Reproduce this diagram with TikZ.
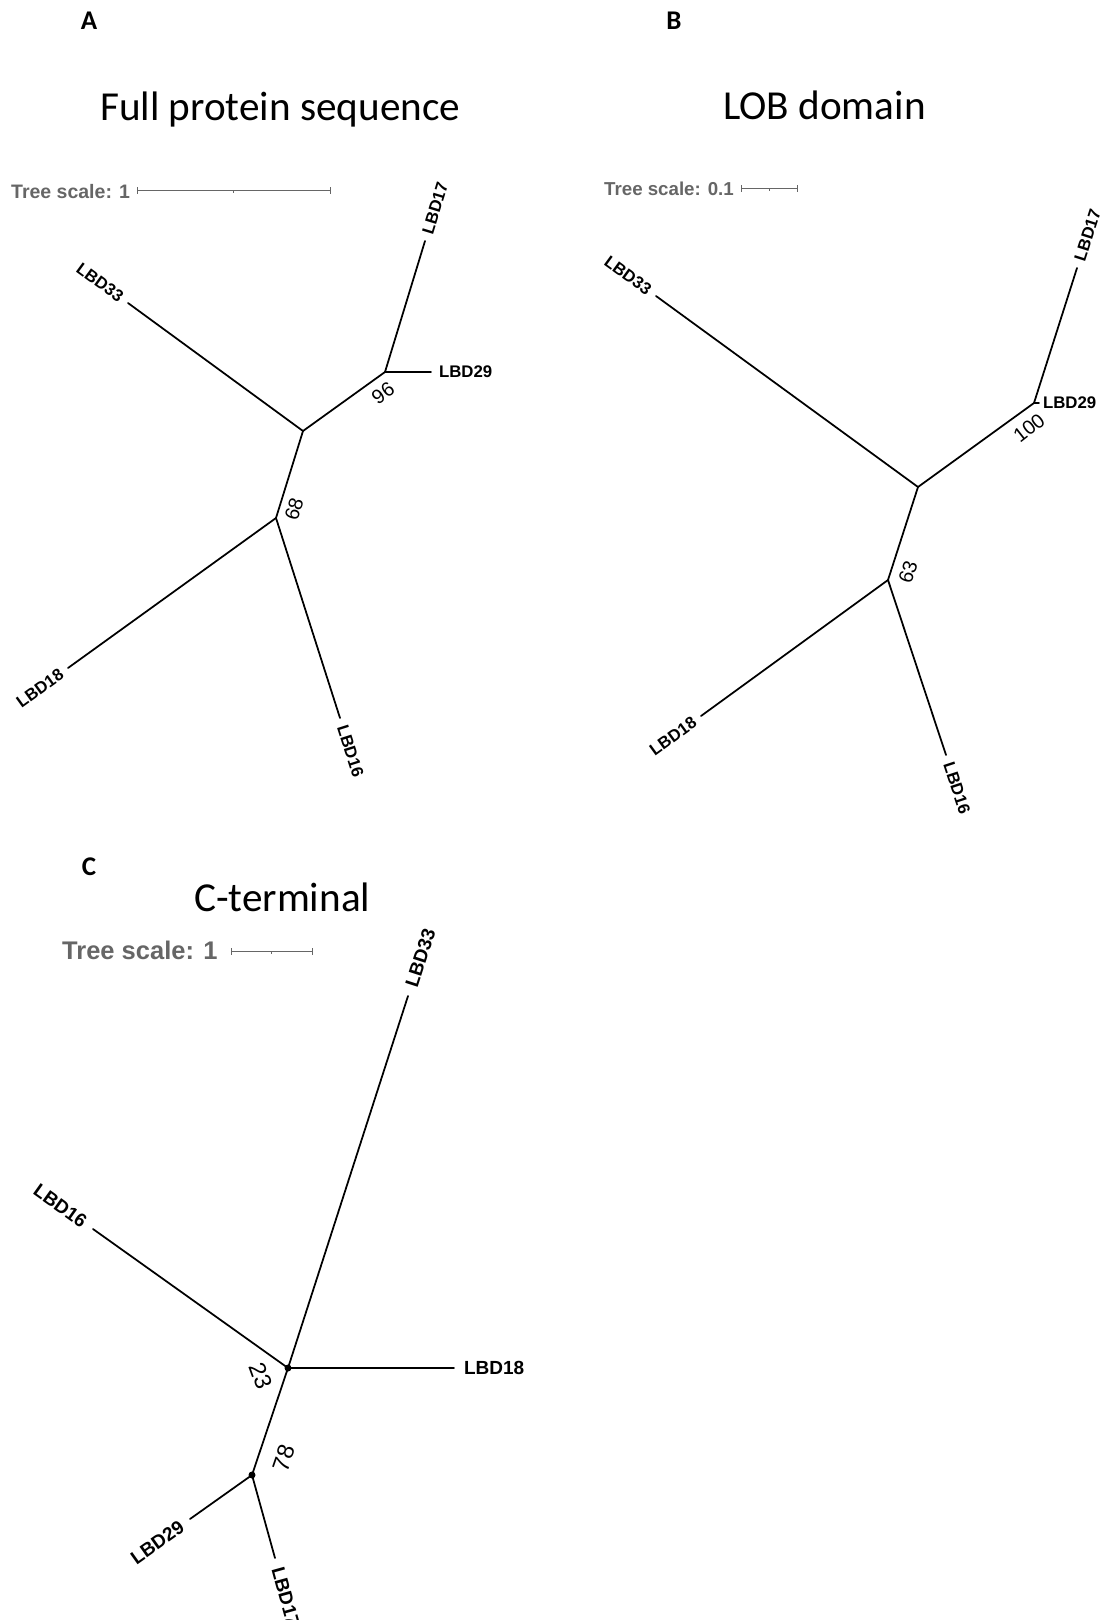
\documentclass[tikz,border=0pt]{standalone}
\usepackage{fontspec}
\setmainfont{Liberation Sans}
\newfontfamily\titlefamily{Carlito}
\definecolor{scalegray}{RGB}{102,102,102}

% font helpers
\newcommand\leafA{\fontsize{16.8}{18}\selectfont\bfseries}
\newcommand\leafC{\fontsize{19}{21}\selectfont\bfseries}
\newcommand\bootA{\fontsize{20}{22}\selectfont}
\newcommand\bootC{\fontsize{23.5}{26}\selectfont}
\newcommand\paneltitle{\fontsize{41.2}{45}\titlefamily}
\newcommand\panelletter{\fontsize{27}{30}\titlefamily\bfseries}

\tikzset{
  branch/.style={line width=1.75pt, line cap=round, black},
  scalebar/.style={line width=1.3pt, scalegray},
  leafW/.style={anchor=west, inner xsep=8pt, inner ysep=0pt, outer sep=0pt},
  leafE/.style={anchor=east, inner xsep=8pt, inner ysep=0pt, outer sep=0pt},
  boot/.style={inner sep=0pt, anchor=center},
  scaletext/.style={anchor=base west, inner sep=0pt, text=scalegray, font=\bfseries},
  ptitle/.style={anchor=base west, inner sep=0pt, font=\paneltitle},
  pletter/.style={anchor=center, inner sep=0pt, font=\panelletter},
  support/.style={fill=black},
}

\begin{document}
\begin{tikzpicture}[x=1pt, y=-1pt]
\path[use as bounding box] (0,0) rectangle (1105,1620);
\fill[white] (0,0) rectangle (1105,1620);
\clip (0,0) rectangle (1105,1620);

% ---------------- Panel A: full protein sequence ----------------
\node[pletter] (letA) at (89,21) {A};
\node[ptitle] (titleA) at (100,120) {Full protein sequence};

\node[scaletext, font=\fontsize{19.5}{22}\selectfont\bfseries] (scaleAtext) at (11,198) {Tree scale: 1};
\coordinate (sA1) at (137,190.5);
\coordinate (sA2) at (330,190.5);
\coordinate (sAm) at (233.5,190.5);
\draw[scalebar] (sA1) -- (sA2);
\draw[scalebar, line width=1pt] (sA1) ++(0,-3.5) -- ++(0,7);
\draw[scalebar, line width=1pt] (sA2) ++(0,-3.5) -- ++(0,7);
\draw[scalebar, line width=1pt] (sAm) -- ++(0,2);

\coordinate (Ac)  at (303,431);
\coordinate (A96) at (385,372);
\coordinate (A68) at (276,518);
\coordinate (A17) at (425,241);
\coordinate (A29) at (431,372);
\coordinate (A33) at (128,303);
\coordinate (A18) at (68,668);
\coordinate (A16) at (340,718);

\draw[branch] (Ac) -- (A96);
\draw[branch] (Ac) -- (A68);
\draw[branch] (Ac) -- (A33);
\draw[branch] (A96) -- (A17);
\draw[branch] (A96) -- (A29);
\draw[branch] (A68) -- (A18);
\draw[branch] (A68) -- (A16);

\node[leafW, rotate=73,    font=\leafA] (Al17) at (A17) {LBD17};
\node[leafW,               font=\leafA] (Al29) at (A29) {LBD29};
\node[leafE, rotate=-36.2, font=\leafA] (Al33) at (A33) {LBD33};
\node[leafE, rotate=35.8,  font=\leafA] (Al18) at (A18) {LBD18};
\node[leafW, rotate=-72.3, font=\leafA] (Al16) at (A16) {LBD16};

\node[boot, rotate=35.7, font=\bootA] (Ab96) at (383,393) {96};
\node[boot, rotate=72.8, font=\bootA] (Ab68) at (294,509) {68};

% ---------------- Panel B: LOB domain ----------------
\node[pletter] (letB) at (674,21) {B};
\node[ptitle] (titleB) at (723,119) {LOB domain};

\node[scaletext, font=\fontsize{18.7}{21}\selectfont\bfseries] (scaleBtext) at (604,195) {Tree scale: 0.1};
\coordinate (sB1) at (741,188.5);
\coordinate (sB2) at (797,188.5);
\coordinate (sBm) at (769,188.5);
\draw[scalebar] (sB1) -- (sB2);
\draw[scalebar, line width=1pt] (sB1) ++(0,-3.5) -- ++(0,7);
\draw[scalebar, line width=1pt] (sB2) ++(0,-3.5) -- ++(0,7);
\draw[scalebar, line width=1pt] (sBm) -- ++(0,2);

\coordinate (Bc)   at (918,487);
\coordinate (B100) at (1034,403);
\coordinate (B63)  at (888,580);
\coordinate (B17)  at (1077,268);
\coordinate (B29)  at (1039,403);
\coordinate (B33)  at (656,296);
\coordinate (B18)  at (701,716);
\coordinate (B16)  at (946,755);

\draw[branch] (Bc) -- (B100);
\draw[branch] (Bc) -- (B63);
\draw[branch] (Bc) -- (B33);
\draw[branch] (B100) -- (B17);
\draw[branch] (B100) -- (B29);
\draw[branch] (B63) -- (B18);
\draw[branch] (B63) -- (B16);

\node[leafW, rotate=72.3,  font=\leafA] (Bl17) at (B17) {LBD17};
\node[leafW, inner xsep=4pt, font=\leafA] (Bl29) at (B29) {LBD29};
\node[leafE, rotate=-36.1, font=\leafA] (Bl33) at (B33) {LBD33};
\node[leafE, rotate=36,    font=\leafA] (Bl18) at (B18) {LBD18};
\node[leafW, rotate=-71.7, font=\leafA] (Bl16) at (B16) {LBD16};

\node[boot, rotate=38,   font=\bootA] (Bb100) at (1029,428) {100};
\node[boot, rotate=72.1, font=\bootA] (Bb63)  at (908,572) {63};

% ---------------- Panel C: C-terminal ----------------
\node[pletter] (letC) at (89,867) {C};
\node[ptitle] (titleC) at (194,911) {C-terminal};

\node[scaletext, font=\fontsize{25.5}{28}\selectfont\bfseries] (scaleCtext) at (62,959) {Tree scale: 1};
\coordinate (sC1) at (231,951.5);
\coordinate (sC2) at (312,951.5);
\coordinate (sCm) at (271.5,951.5);
\draw[scalebar] (sC1) -- (sC2);
\draw[scalebar, line width=1pt] (sC1) ++(0,-3.5) -- ++(0,7);
\draw[scalebar, line width=1pt] (sC2) ++(0,-3.5) -- ++(0,7);
\draw[scalebar, line width=1pt] (sCm) -- ++(0,2);

\coordinate (C23) at (288,1368);
\coordinate (C78) at (252,1475);
\coordinate (C33) at (408,996);
\coordinate (C16) at (93,1229);
\coordinate (C18) at (454,1368);
\coordinate (C29) at (190,1519);
\coordinate (C17) at (275,1558);

\draw[branch] (C23) -- (C33);
\draw[branch] (C23) -- (C16);
\draw[branch] (C23) -- (C18);
\draw[branch] (C23) -- (C78);
\draw[branch] (C78) -- (C29);
\draw[branch] (C78) -- (C17);

\fill[support] (C23) circle (3.5pt);
\fill[support] (C78) circle (3.5pt);

\node[leafW, inner xsep=10pt, rotate=72.1,  font=\leafC] (Cl33) at (C33) {LBD33};
\node[leafE, inner xsep=10pt, rotate=-35.5, font=\leafC] (Cl16) at (C16) {LBD16};
\node[leafW, inner xsep=10pt,               font=\leafC] (Cl18) at (C18) {LBD18};
\node[leafE, inner xsep=10pt, rotate=35.4,  font=\leafC] (Cl29) at (C29) {LBD29};
\node[leafW, inner xsep=10pt, rotate=-74.5, font=\leafC] (Cl17) at (C17) {LBD17};

\node[boot, rotate=-70, font=\bootC] (Cb23) at (261,1376) {23};
\node[boot, rotate=71,  font=\bootC] (Cb78) at (284,1458) {78};
\end{tikzpicture}
\end{document}
